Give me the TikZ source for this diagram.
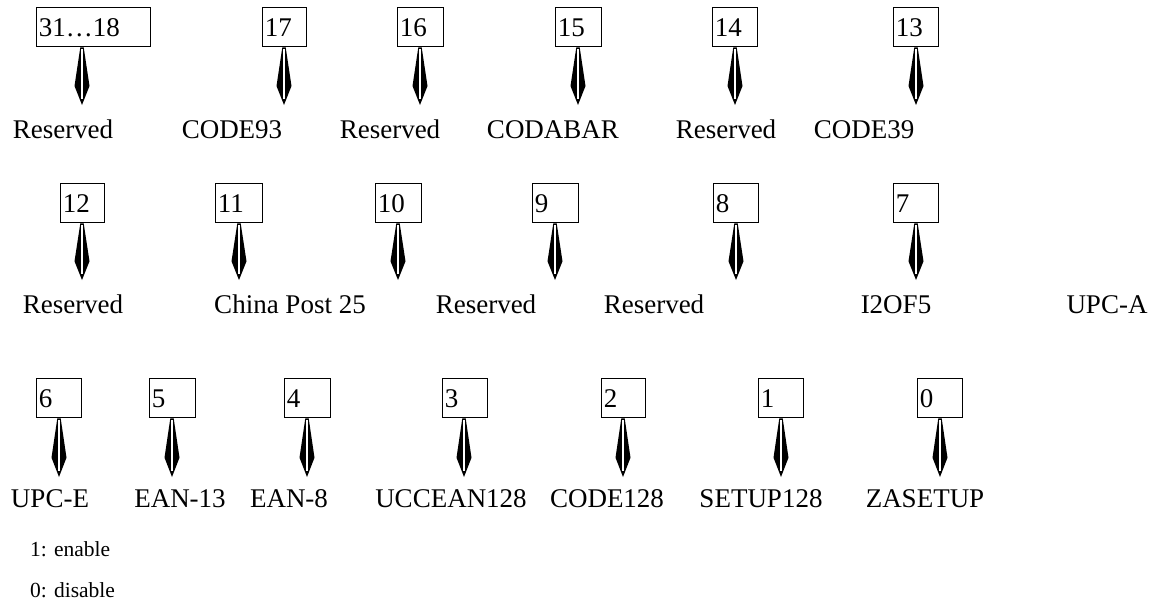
\documentclass[tikz,border=0pt]{standalone}
\usepackage{fontspec}
\setmainfont{Liberation Serif}
\usetikzlibrary{calc}

\tikzset{
  bitbox/.style={draw, line width=1.4pt, anchor=north west, inner xsep=1.5pt,
    inner ysep=0pt, minimum height=39pt, text height=19pt, text depth=0pt,
    align=left, font=\fontsize{27}{30}\selectfont},
  fieldname/.style={anchor=base, inner sep=0pt, font=\fontsize{27}{30}\selectfont},
  note/.style={anchor=base west, inner sep=0pt, font=\fontsize{21.5}{24}\selectfont}
}

% tapered pointer from a box (#1) down to a tip coordinate (#2)
\newcommand{\nib}[2]{%
  \coordinate (nibtop) at (#2 |- #1.south);
  \fill ($(nibtop)+(-1.7,0)$) -- ($(nibtop)!0.67!(#2)+(-7.5,0)$) -- (#2)
    -- ($(nibtop)!0.67!(#2)+(7.5,0)$) -- ($(nibtop)+(1.7,0)$) -- cycle;
  \draw[white, line width=1.1pt] ($(nibtop)+(0,2)$) -- ($(nibtop)!0.9!(#2)$);
}

\begin{document}
\begin{tikzpicture}[x=1pt, y=-1pt]
  \useasboundingbox (0,0) rectangle (1168,605);

  % bits 31..13
  \foreach \n/\bl/\bw/\ax/\lx/\bt/\lt in {a/36/114/82/63/31…18/Reserved,
      17/262/44/284/232/17/CODE93, 16/397/46/420/390/16/Reserved,
      15/555/46/578/553/15/CODABAR, 14/712/45/735/726/14/Reserved,
      13/893/45/916/864/13/CODE39} {
    \pgfmathsetmacro\tw{\bw-4.4}
    \node[bitbox, minimum width=\bw pt, text width=\tw pt] (b\n) at (\bl,7) {\bt};
    \coordinate (t\n) at (\ax,105);
    \nib{b\n}{t\n}
    \node[fieldname] (f\n) at (\lx,138) {\lt};
  }

  % bits 12..7
  \foreach \n/\bl/\bw/\ax/\lx/\bt/\lt in {12/60/44/82/73/12/Reserved,
      11/215/47/239/290/11/China Post 25, 10/375/46/398/486/10/Reserved,
      9/532/46/555/654/9/Reserved, 8/713/45/736/896/8/I2OF5,
      7/893/45/916/1107/7/UPC-A} {
    \pgfmathsetmacro\tw{\bw-4.4}
    \node[bitbox, minimum width=\bw pt, text width=\tw pt] (b\n) at (\bl,183) {\bt};
    \coordinate (t\n) at (\ax,280);
    \nib{b\n}{t\n}
    \node[fieldname] (f\n) at (\lx,313) {\lt};
  }

  % bits 6..0
  \foreach \n/\bl/\bw/\ax/\lx/\bt/\lt in {6/36/45/59/50/6/UPC-E,
      5/149/46/172/180/5/EAN-13, 4/284/46/307/289/4/EAN-8,
      3/442/45/464/451/3/UCCEAN128, 2/601/44/623/607/2/CODE128,
      1/758/45/781/761/1/SETUP128, 0/917/45/940/925/0/ZASETUP} {
    \pgfmathsetmacro\tw{\bw-4.4}
    \node[bitbox, minimum width=\bw pt, text width=\tw pt] (b\n) at (\bl,378) {\bt};
    \coordinate (t\n) at (\ax,477);
    \nib{b\n}{t\n}
    \node[fieldname] (f\n) at (\lx,507) {\lt};
  }

  \node[note] (on) at (30,556) {1: enable};
  \node[note] (off) at (30,597) {0: disable};
\end{tikzpicture}
\end{document}
